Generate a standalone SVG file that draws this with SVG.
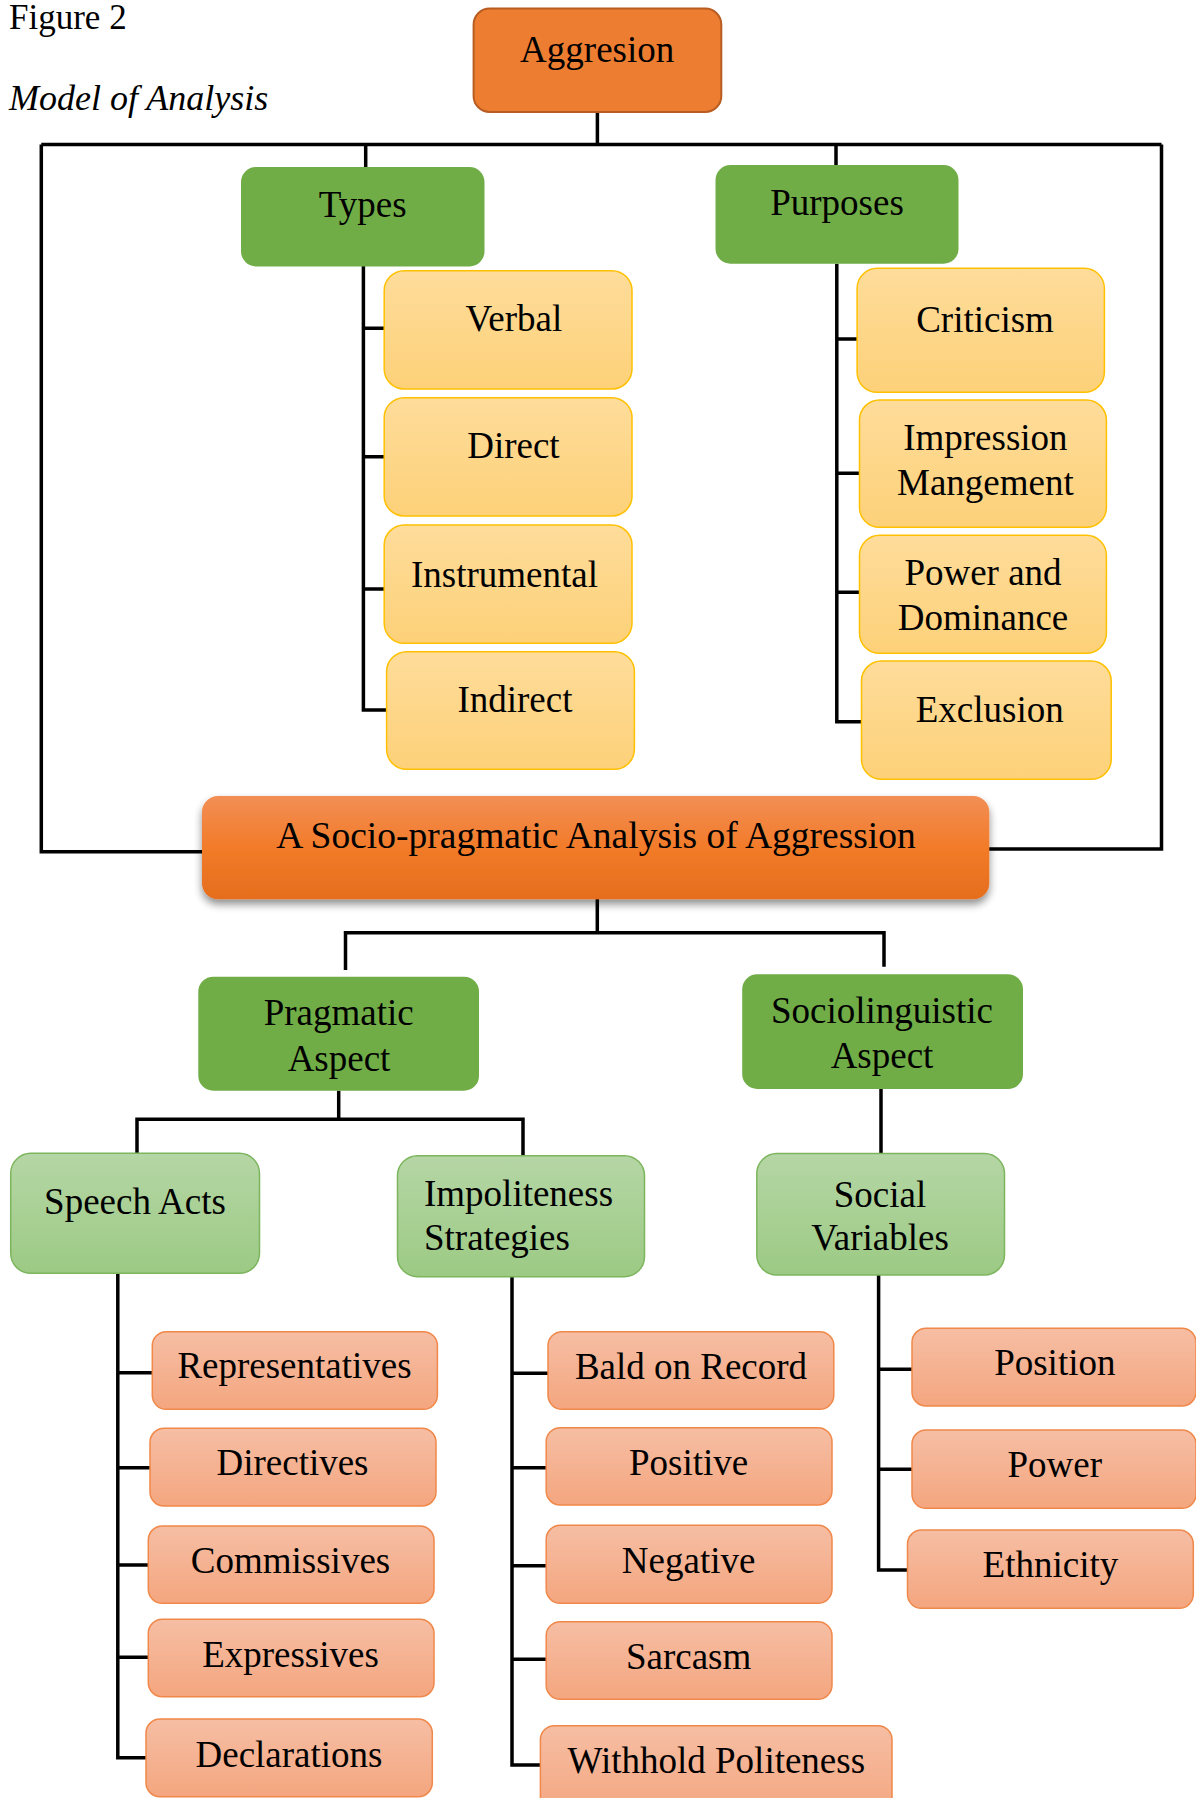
<svg xmlns="http://www.w3.org/2000/svg" width="1196" height="1798" viewBox="0 0 1196 1798">
<defs>
<linearGradient id="gY" x1="0" y1="0" x2="0" y2="1"><stop offset="0" stop-color="#FEDC9A"/><stop offset="1" stop-color="#FDD179"/></linearGradient>
<linearGradient id="gS" x1="0" y1="0" x2="0" y2="1"><stop offset="0" stop-color="#F6BEA4"/><stop offset="1" stop-color="#F4A67F"/></linearGradient>
<linearGradient id="gL" x1="0" y1="0" x2="0" y2="1"><stop offset="0" stop-color="#B5D6A5"/><stop offset="1" stop-color="#9CCA84"/></linearGradient>
<linearGradient id="gO" x1="0" y1="0" x2="0" y2="1"><stop offset="0" stop-color="#F28E55"/><stop offset="0.5" stop-color="#F27B29"/><stop offset="1" stop-color="#E56D1D"/></linearGradient>
<filter id="sh" x="-5%" y="-20%" width="110%" height="150%"><feGaussianBlur in="SourceAlpha" stdDeviation="4"/><feOffset dx="0" dy="5" result="b"/><feComponentTransfer><feFuncA type="linear" slope="0.45"/></feComponentTransfer><feMerge><feMergeNode/><feMergeNode in="SourceGraphic"/></feMerge></filter>
</defs>
<style>
text{font-family:"Liberation Serif","Times New Roman",serif;font-size:37px;fill:#000}
.c{text-anchor:middle}
.y{fill:url(#gY);stroke:#FFC000;stroke-width:1.5}
.s{fill:url(#gS);stroke:#F0884A;stroke-width:1.5}
.l{fill:url(#gL);stroke:#7DB55E;stroke-width:1.5}
.g{fill:#70AD47}
.con path{fill:none;stroke:#000;stroke-width:3.5}
</style>
<rect width="1196" height="1798" fill="#fff"/>
<text x="9" y="29" style="font-size:35px">Figure 2</text>
<text x="9" y="110" style="font-size:36px;font-style:italic">Model of Analysis</text>

<g class="con">
<path d="M597.4,112 V144.5 M41.3,144.5 H1161.5 M365.7,144.5 V167 M836,144.5 V165"/>
<path d="M41.3,144.5 V851.7 H203 M1161.5,144.5 V849 H988"/>
<path d="M363.4,266 V710 H387 M363.4,328.3 H384.5 M363.4,456.7 H384.5 M363.4,589 H384.5"/>
<path d="M836.8,263.7 V721.7 H861.5 M836.8,339 H857.1 M836.8,473.3 H859.5 M836.8,592.3 H859.5"/>
<path d="M597.3,899 V932.7 M345.5,970 V932.7 H884 V966.7"/>
<path d="M338.7,1090.7 V1119.3 M137,1155 V1119.3 H523 V1156.7"/>
<path d="M881,1089 V1153.6"/>
<path d="M117.8,1273 V1757.7 H146 M117.8,1372.7 H152.3 M117.8,1467.7 H150 M117.8,1565 H148.3 M117.8,1657.3 H148.3"/>
<path d="M512,1277 V1765 H540.4 M512,1373.3 H548 M512,1467.7 H546.2 M512,1565.7 H546.2 M512,1659.3 H546.2"/>
<path d="M878.6,1275 V1570 H907.5 M878.6,1369.3 H912 M878.6,1469.3 H912"/>
</g>

<g id="aggresion"><rect x="473.6" y="8.5" width="247.7" height="103.5" rx="16" fill="#ED7D31" stroke="#B85C22" stroke-width="2"/><text class="c" x="597.2" y="62">Aggresion</text></g>

<g id="types"><rect x="241" y="167" width="243.5" height="99.5" rx="15" class="g"/><text class="c" x="362.7" y="216.7">Types</text></g>
<g id="purposes"><rect x="715.5" y="165" width="243" height="98.7" rx="15" class="g"/><text class="c" x="837" y="215">Purposes</text></g>

<g id="verbal"><rect x="384.2" y="270.7" width="247.8" height="118.3" rx="20" class="y"/><text class="c" x="513.9" y="331">Verbal</text></g>
<g id="direct"><rect x="384.2" y="397.7" width="247.8" height="118.3" rx="20" class="y"/><text class="c" x="513.4" y="458.3">Direct</text></g>
<g id="instrumental"><rect x="384.2" y="525" width="247.8" height="118.3" rx="20" class="y"/><text class="c" x="504.5" y="586.7">Instrumental</text></g>
<g id="indirect"><rect x="386.6" y="651.7" width="247.8" height="117.6" rx="20" class="y"/><text class="c" x="514.9" y="712.3">Indirect</text></g>

<g id="criticism"><rect x="857.1" y="268.3" width="247.3" height="124" rx="20" class="y"/><text class="c" x="985" y="331.7">Criticism</text></g>
<g id="impression"><rect x="859.5" y="400" width="246.9" height="127.3" rx="20" class="y"/><text class="c" x="985.4" y="450">Impression</text><text class="c" x="985.4" y="495">Mangement</text></g>
<g id="power-dominance"><rect x="859.5" y="535.3" width="246.9" height="118" rx="20" class="y"/><text class="c" x="983" y="585">Power and</text><text class="c" x="983" y="630">Dominance</text></g>
<g id="exclusion"><rect x="861.5" y="661" width="249.7" height="118.3" rx="20" class="y"/><text class="c" x="989.7" y="721.7">Exclusion</text></g>

<g id="socio-pragmatic"><rect x="202" y="796" width="787.3" height="103.3" rx="16" fill="url(#gO)" filter="url(#sh)"/><text class="c" x="596" y="848.3" style="font-size:37.5px">A Socio-pragmatic Analysis of Aggression</text></g>

<g id="pragmatic"><rect x="198.3" y="976.7" width="280.7" height="114" rx="15" class="g"/><text class="c" x="338.7" y="1025">Pragmatic</text><text class="c" x="339" y="1070.7">Aspect</text></g>
<g id="sociolinguistic"><rect x="742.2" y="974.3" width="280.8" height="114.7" rx="15" class="g"/><text class="c" x="882" y="1022.7">Sociolinguistic</text><text class="c" x="882" y="1068.3">Aspect</text></g>

<g id="speech-acts"><rect x="10.7" y="1153.3" width="248.8" height="120" rx="20" class="l"/><text class="c" x="135" y="1214.3">Speech Acts</text></g>
<g id="impoliteness"><rect x="397.5" y="1155.7" width="247" height="121" rx="20" class="l"/><text x="424" y="1206">Impoliteness</text><text x="424" y="1250">Strategies</text></g>
<g id="social-variables"><rect x="756.8" y="1153.6" width="247.7" height="121.4" rx="20" class="l"/><text class="c" x="880" y="1206.5">Social</text><text class="c" x="880" y="1250">Variables</text></g>

<g id="representatives"><rect x="152.3" y="1331.7" width="285.1" height="77.6" rx="14" class="s"/><text class="c" x="294.5" y="1378.3">Representatives</text></g>
<g id="directives"><rect x="150" y="1428.3" width="286" height="77.7" rx="14" class="s"/><text class="c" x="292.5" y="1475">Directives</text></g>
<g id="commissives"><rect x="148.3" y="1526" width="285.7" height="77.3" rx="14" class="s"/><text class="c" x="290.5" y="1573.3">Commissives</text></g>
<g id="expressives"><rect x="148.3" y="1619.3" width="285.7" height="77.4" rx="14" class="s"/><text class="c" x="290.5" y="1666.7">Expressives</text></g>
<g id="declarations"><rect x="146" y="1719" width="286.3" height="77.7" rx="14" class="s"/><text class="c" x="289" y="1766.7">Declarations</text></g>

<g id="bald-on-record"><rect x="548" y="1331.7" width="285.8" height="77.6" rx="14" class="s"/><text class="c" x="691" y="1379.3">Bald on Record</text></g>
<g id="positive"><rect x="546.2" y="1427.7" width="285.8" height="77.3" rx="14" class="s"/><text class="c" x="688.6" y="1475">Positive</text></g>
<g id="negative"><rect x="546.2" y="1525.3" width="285.8" height="78" rx="14" class="s"/><text class="c" x="688.6" y="1572.7">Negative</text></g>
<g id="sarcasm"><rect x="546.2" y="1621.7" width="285.8" height="77.6" rx="14" class="s"/><text class="c" x="688.6" y="1669.3">Sarcasm</text></g>
<g id="withhold-politeness"><rect x="540.4" y="1725.7" width="351.6" height="90" rx="14" class="s"/><text class="c" x="716.3" y="1772.7">Withhold Politeness</text></g>

<g id="position"><rect x="912" y="1328.3" width="284" height="77.7" rx="14" class="s"/><text class="c" x="1054.8" y="1375">Position</text></g>
<g id="power"><rect x="912" y="1430" width="284" height="78.3" rx="14" class="s"/><text class="c" x="1054.8" y="1476.7">Power</text></g>
<g id="ethnicity"><rect x="907.5" y="1530" width="285.8" height="78.3" rx="14" class="s"/><text class="c" x="1050.4" y="1576.7">Ethnicity</text></g>
</svg>
